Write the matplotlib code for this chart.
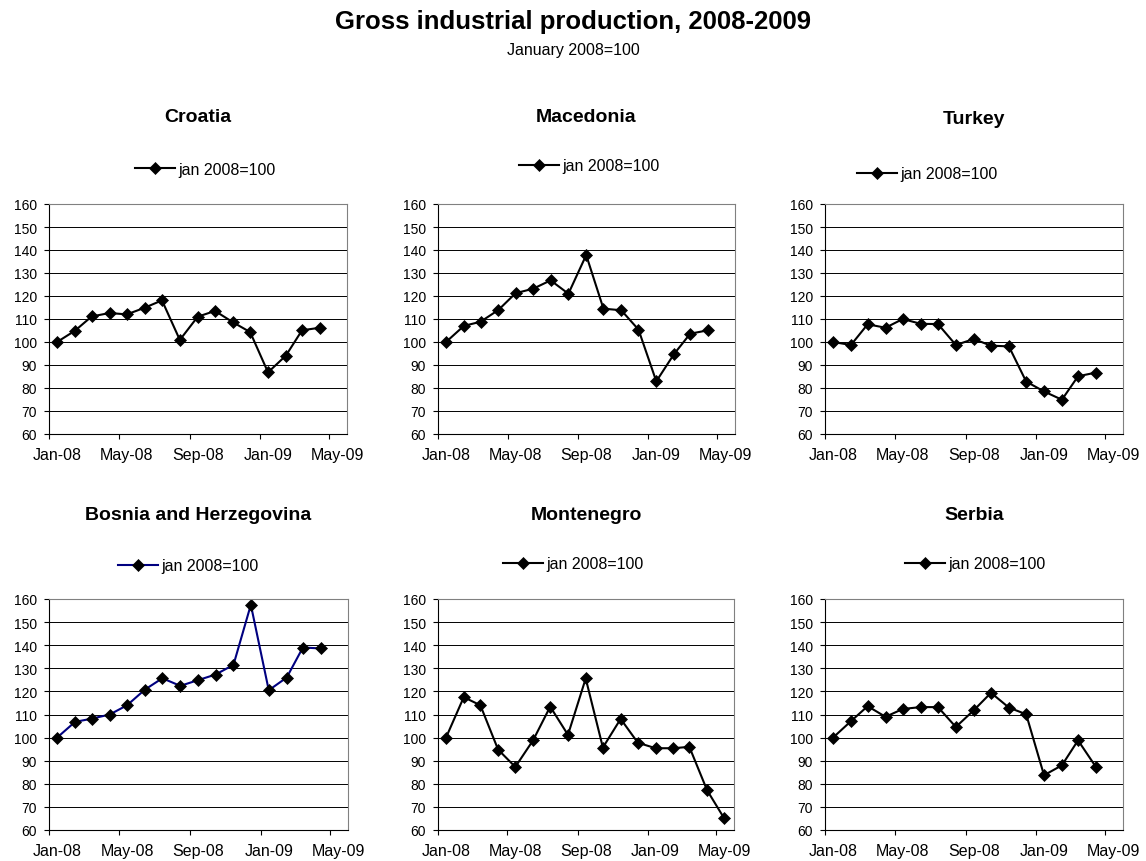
import matplotlib
matplotlib.use("Agg")
import matplotlib.pyplot as plt
import matplotlib.dates as mdates
import matplotlib.ticker as mticker
import pandas as pd

plt.rcParams['font.family'] = ['Liberation Sans', 'DejaVu Sans']

# Gross industrial production index, January 2008 = 100
countries = ["Croatia", "Macedonia", "Turkey",
             "Bosnia and Herzegovina", "Montenegro", "Serbia"]

croatia = [100, 104.9, 111.1, 112.6, 112.0, 114.9, 118.1, 100.9,
           111.0, 113.5, 108.6, 104.3, 86.8, 94.1, 105.1, 106.2]
macedonia = [100, 107.0, 108.8, 113.9, 121.2, 123.2, 126.8, 121.0,
             137.8, 114.5, 113.8, 105.4, 82.9, 94.8, 103.6, 105.1]
turkey = [100, 98.7, 107.7, 106.2, 110.0, 107.9, 107.8, 98.7,
          101.3, 98.4, 98.1, 82.8, 78.5, 74.9, 85.1, 86.7]
bosnia = [100, 106.8, 108.2, 110.0, 114.0, 120.8, 125.7, 122.4,
          124.9, 127.3, 131.5, 157.5, 120.5, 126.0, 139.0, 138.6]
montenegro = [100, 117.5, 114.0, 94.8, 87.3, 98.8, 113.4, 101.2,
              125.6, 95.7, 108.1, 97.8, 95.4, 95.4, 96.0, 77.2, 65.0]
serbia = [100, 107.1, 113.6, 109.0, 112.4, 113.2, 113.2, 104.6,
          111.8, 119.4, 113.0, 110.1, 83.7, 88.0, 98.8, 87.3]

series = [croatia, macedonia, turkey, bosnia, montenegro, serbia]
line_colors = ["black", "black", "black", "#000080", "black", "black"]
legend_label = "jan 2008=100"
y_ticks = list(range(60, 161, 10))

W, H = 1146, 862
fig = plt.figure(figsize=(W / 100, H / 100), dpi=100)

fig.text(573 / W, 1 - 22 / H, "Gross industrial production, 2008-2009",
         ha="center", va="center", fontsize=18.5, fontweight="bold")
fig.text(573 / W, 1 - 51 / H, "January 2008=100",
         ha="center", va="center", fontsize=11.5)

# plot areas in pixels: left, top, right, bottom
boxes = [(49, 205, 347, 435), (438, 205, 735, 435), (825, 205, 1123, 435),
         (49, 600, 348, 831), (438, 600, 734, 831), (825, 600, 1123, 831)]
title_y = [118, 118, 119, 515, 515, 515]
legend_xy = [(205, 170), (589, 167), (927, 175),
             (188, 567), (573, 565), (975, 565)]

for i, name in enumerate(countries):
    l, t, r, b = boxes[i]
    ax = fig.add_axes([l / W, 1 - b / H, (r - l) / W, (b - t) / H])

    months = pd.date_range("2008-01-01", periods=len(series[i]), freq="MS")
    dates = months + pd.Timedelta(days=14)
    ax.plot(dates, series[i], color=line_colors[i], lw=1.5,
            marker="D", ms=6, mfc="black", mec="black", mew=0.5,
            label=legend_label)

    ax.set_xlim(pd.Timestamp("2008-01-01"), pd.Timestamp("2009-06-01"))
    ax.set_ylim(60, 160)
    ax.set_yticks(y_ticks)
    # tick marks on the 1st of the month, labels sit mid-month
    ax.xaxis.set_major_locator(mdates.MonthLocator(bymonth=[1, 5, 9]))
    ax.xaxis.set_major_formatter(mticker.NullFormatter())
    ax.xaxis.set_minor_locator(mdates.MonthLocator(bymonth=[1, 5, 9], bymonthday=15))
    ax.xaxis.set_minor_formatter(mdates.DateFormatter("%b-%y"))
    ax.yaxis.grid(True, color="black", lw=0.7)
    ax.set_axisbelow(True)
    ax.tick_params(length=3.6, width=0.8, direction="out")
    ax.tick_params(axis="x", which="minor", length=0, labelsize=11.5, pad=9.5)
    ax.tick_params(axis="y", labelsize=10, pad=5)

    for side in ("left", "bottom"):
        ax.spines[side].set_color("black")
        ax.spines[side].set_linewidth(0.8)
    for side in ("top", "right"):
        ax.spines[side].set_color("#808080")
        ax.spines[side].set_linewidth(0.8)

    fig.text((l + r) / 2 / W, 1 - title_y[i] / H, name,
             ha="center", va="center", fontsize=14, fontweight="bold")

    lx, ly = legend_xy[i]
    ax.legend(loc="center", bbox_to_anchor=(lx / W, 1 - ly / H),
              bbox_transform=fig.transFigure, frameon=False,
              fontsize=11.5, handlelength=2.5, handletextpad=0.2)

fig.savefig("out.png", dpi=100)
